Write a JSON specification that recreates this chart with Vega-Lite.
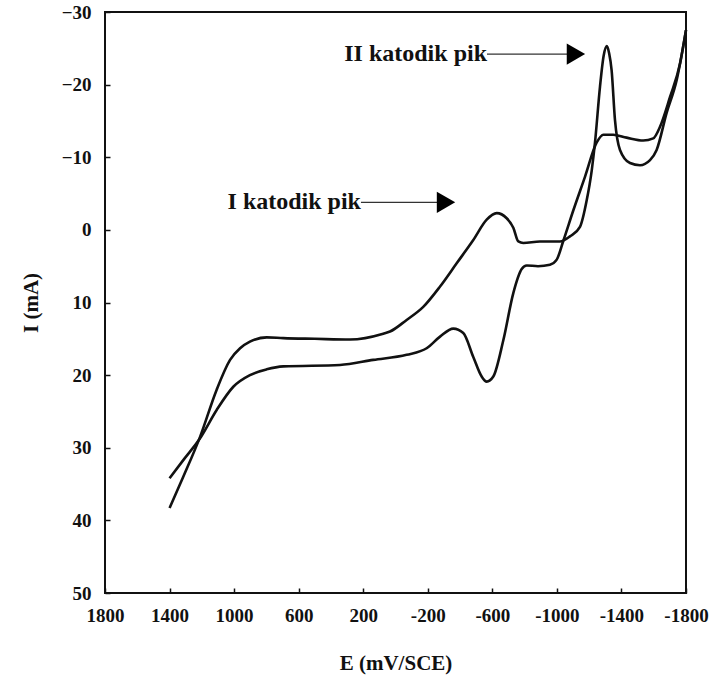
{
  "$schema": "https://vega.github.io/schema/vega-lite/v6.json",
  "width": 581,
  "height": 581,
  "autosize": {"type": "none"},
  "padding": {"left": 105, "top": 12, "right": 26, "bottom": 85},
  "background": "white",
  "config": {
    "view": {"stroke": "#111", "strokeWidth": 2},
    "axis": {
      "grid": false,
      "domain": false,
      "tickColor": "#111",
      "tickWidth": 1.5,
      "tickSize": -5,
      "labelFont": "Liberation Serif",
      "labelFontWeight": "bold",
      "labelFontSize": 19,
      "labelColor": "#111",
      "titleFont": "Liberation Serif",
      "titleFontWeight": "bold",
      "titleFontSize": 21,
      "titleColor": "#111",
      "labelFlush": false,
      "labelOverlap": false
    }
  },
  "datasets": {
    "cv": [
      {"branch": "A", "i": 1, "E": 1400, "I": 38.3},
      {"branch": "A", "i": 2, "E": 1315, "I": 34.0},
      {"branch": "A", "i": 3, "E": 1211, "I": 28.5},
      {"branch": "A", "i": 4, "E": 1108, "I": 22.0},
      {"branch": "A", "i": 5, "E": 1025, "I": 17.9},
      {"branch": "A", "i": 6, "E": 963, "I": 16.3},
      {"branch": "A", "i": 7, "E": 902, "I": 15.4},
      {"branch": "A", "i": 8, "E": 798, "I": 14.8},
      {"branch": "A", "i": 9, "E": 695, "I": 14.9},
      {"branch": "A", "i": 10, "E": 500, "I": 15.0},
      {"branch": "A", "i": 11, "E": 282, "I": 15.1},
      {"branch": "A", "i": 12, "E": 76, "I": 14.3},
      {"branch": "A", "i": 13, "E": 34, "I": 14.0},
      {"branch": "A", "i": 14, "E": -69, "I": 12.4},
      {"branch": "A", "i": 15, "E": -172, "I": 10.6},
      {"branch": "A", "i": 16, "E": -276, "I": 7.8},
      {"branch": "A", "i": 17, "E": -379, "I": 4.6},
      {"branch": "A", "i": 18, "E": -482, "I": 1.4},
      {"branch": "A", "i": 19, "E": -565, "I": -1.4},
      {"branch": "A", "i": 20, "E": -627, "I": -2.3},
      {"branch": "A", "i": 21, "E": -689, "I": -1.6},
      {"branch": "A", "i": 22, "E": -730, "I": -0.3},
      {"branch": "A", "i": 23, "E": -761, "I": 1.6},
      {"branch": "A", "i": 24, "E": -792, "I": 1.8},
      {"branch": "A", "i": 25, "E": -895, "I": 1.6},
      {"branch": "A", "i": 26, "E": -1019, "I": 1.6},
      {"branch": "A", "i": 27, "E": -1081, "I": 0.9},
      {"branch": "A", "i": 28, "E": -1143, "I": -0.4},
      {"branch": "A", "i": 29, "E": -1185, "I": -4.1},
      {"branch": "A", "i": 30, "E": -1216, "I": -8.2},
      {"branch": "A", "i": 31, "E": -1236, "I": -12.0},
      {"branch": "A", "i": 32, "E": -1267, "I": -19.7},
      {"branch": "A", "i": 33, "E": -1290, "I": -24.0},
      {"branch": "A", "i": 34, "E": -1309, "I": -25.3},
      {"branch": "A", "i": 35, "E": -1324, "I": -24.3},
      {"branch": "A", "i": 36, "E": -1339, "I": -22.0},
      {"branch": "A", "i": 37, "E": -1360, "I": -15.1},
      {"branch": "A", "i": 38, "E": -1391, "I": -11.0},
      {"branch": "A", "i": 39, "E": -1453, "I": -9.2},
      {"branch": "A", "i": 40, "E": -1515, "I": -8.9},
      {"branch": "A", "i": 41, "E": -1577, "I": -9.6},
      {"branch": "A", "i": 42, "E": -1618, "I": -11.0},
      {"branch": "A", "i": 43, "E": -1680, "I": -16.1},
      {"branch": "A", "i": 44, "E": -1742, "I": -20.6},
      {"branch": "A", "i": 45, "E": -1800, "I": -27.5},
      {"branch": "B", "i": 1, "E": -1800, "I": -27.5},
      {"branch": "B", "i": 2, "E": -1763, "I": -22.9},
      {"branch": "B", "i": 3, "E": -1701, "I": -18.3},
      {"branch": "B", "i": 4, "E": -1639, "I": -14.2},
      {"branch": "B", "i": 5, "E": -1597, "I": -12.6},
      {"branch": "B", "i": 6, "E": -1535, "I": -12.3},
      {"branch": "B", "i": 7, "E": -1432, "I": -12.7},
      {"branch": "B", "i": 8, "E": -1349, "I": -13.1},
      {"branch": "B", "i": 9, "E": -1288, "I": -13.1},
      {"branch": "B", "i": 10, "E": -1246, "I": -12.0},
      {"branch": "B", "i": 11, "E": -1174, "I": -7.3},
      {"branch": "B", "i": 12, "E": -1102, "I": -2.7},
      {"branch": "B", "i": 13, "E": -1040, "I": 1.5},
      {"branch": "B", "i": 14, "E": -999, "I": 4.1},
      {"branch": "B", "i": 15, "E": -957, "I": 4.8},
      {"branch": "B", "i": 16, "E": -883, "I": 5.0},
      {"branch": "B", "i": 17, "E": -813, "I": 4.9},
      {"branch": "B", "i": 18, "E": -782, "I": 5.4},
      {"branch": "B", "i": 19, "E": -730, "I": 8.7},
      {"branch": "B", "i": 20, "E": -668, "I": 15.2},
      {"branch": "B", "i": 21, "E": -606, "I": 20.2},
      {"branch": "B", "i": 22, "E": -565, "I": 20.9},
      {"branch": "B", "i": 23, "E": -534, "I": 20.2},
      {"branch": "B", "i": 24, "E": -482, "I": 17.5},
      {"branch": "B", "i": 25, "E": -420, "I": 14.2},
      {"branch": "B", "i": 26, "E": -358, "I": 13.6},
      {"branch": "B", "i": 27, "E": -276, "I": 14.7},
      {"branch": "B", "i": 28, "E": -193, "I": 16.3},
      {"branch": "B", "i": 29, "E": -69, "I": 17.2},
      {"branch": "B", "i": 30, "E": 138, "I": 17.9},
      {"branch": "B", "i": 31, "E": 344, "I": 18.6},
      {"branch": "B", "i": 32, "E": 695, "I": 18.8},
      {"branch": "B", "i": 33, "E": 798, "I": 19.2},
      {"branch": "B", "i": 34, "E": 902, "I": 20.0},
      {"branch": "B", "i": 35, "E": 1005, "I": 21.6},
      {"branch": "B", "i": 36, "E": 1108, "I": 24.8},
      {"branch": "B", "i": 37, "E": 1211, "I": 28.7},
      {"branch": "B", "i": 38, "E": 1315, "I": 31.7},
      {"branch": "B", "i": 39, "E": 1400, "I": 34.2}
    ],
    "notes": [
      {"label": "I katodik pik", "E": 214, "E2": -313, "I": -3.8},
      {"label": "II katodik pik", "E": -567, "E2": -1118, "I": -24.2}
    ]
  },
  "layer": [
    {
      "data": {"name": "cv"},
      "mark": {"type": "line", "interpolate": "monotone", "color": "#111", "strokeWidth": 2.6},
      "encoding": {
        "x": {
          "field": "E", "type": "quantitative",
          "scale": {"domain": [-1800, 1800], "reverse": true, "nice": false, "zero": false},
          "axis": {
            "title": "E (mV/SCE)",
            "values": [1800, 1400, 1000, 600, 200, -200, -600, -1000, -1400, -1800],
            "format": "d",
            "labelPadding": 18,
            "titlePadding": 27,
            "labelExpr": "replace(datum.label, '\u2212', '-')"
          }
        },
        "y": {
          "field": "I", "type": "quantitative",
          "scale": {"domain": [-30, 50], "reverse": true, "nice": false, "zero": false},
          "axis": {
            "title": "I (mA)",
            "values": [-30, -20, -10, 0, 10, 20, 30, 40, 50],
            "labelPadding": 19,
            "titlePadding": 20
          }
        },
        "detail": {"field": "branch"},
        "order": {"field": "i", "type": "quantitative"}
      }
    },
    {
      "data": {"name": "notes"},
      "mark": {"type": "rule", "color": "#333", "strokeWidth": 1.2},
      "encoding": {
        "x": {"field": "E", "type": "quantitative", "scale": {"domain": [-1800, 1800], "reverse": true, "nice": false, "zero": false}},
        "x2": {"field": "E2"},
        "y": {"field": "I", "type": "quantitative", "scale": {"domain": [-30, 50], "reverse": true, "nice": false, "zero": false}}
      }
    },
    {
      "data": {"name": "notes"},
      "mark": {"type": "point", "shape": "triangle-right", "filled": true, "color": "#000", "opacity": 1, "size": 450},
      "encoding": {
        "x": {"field": "E2", "type": "quantitative", "scale": {"domain": [-1800, 1800], "reverse": true, "nice": false, "zero": false}},
        "y": {"field": "I", "type": "quantitative", "scale": {"domain": [-30, 50], "reverse": true, "nice": false, "zero": false}}
      }
    },
    {
      "data": {"name": "notes"},
      "mark": {"type": "text", "align": "right", "baseline": "middle", "font": "Liberation Serif", "fontWeight": "bold", "fontSize": 24, "color": "#111", "dy": 0},
      "encoding": {
        "x": {"field": "E", "type": "quantitative", "scale": {"domain": [-1800, 1800], "reverse": true, "nice": false, "zero": false}},
        "y": {"field": "I", "type": "quantitative", "scale": {"domain": [-30, 50], "reverse": true, "nice": false, "zero": false}},
        "text": {"field": "label"}
      }
    }
  ]
}
